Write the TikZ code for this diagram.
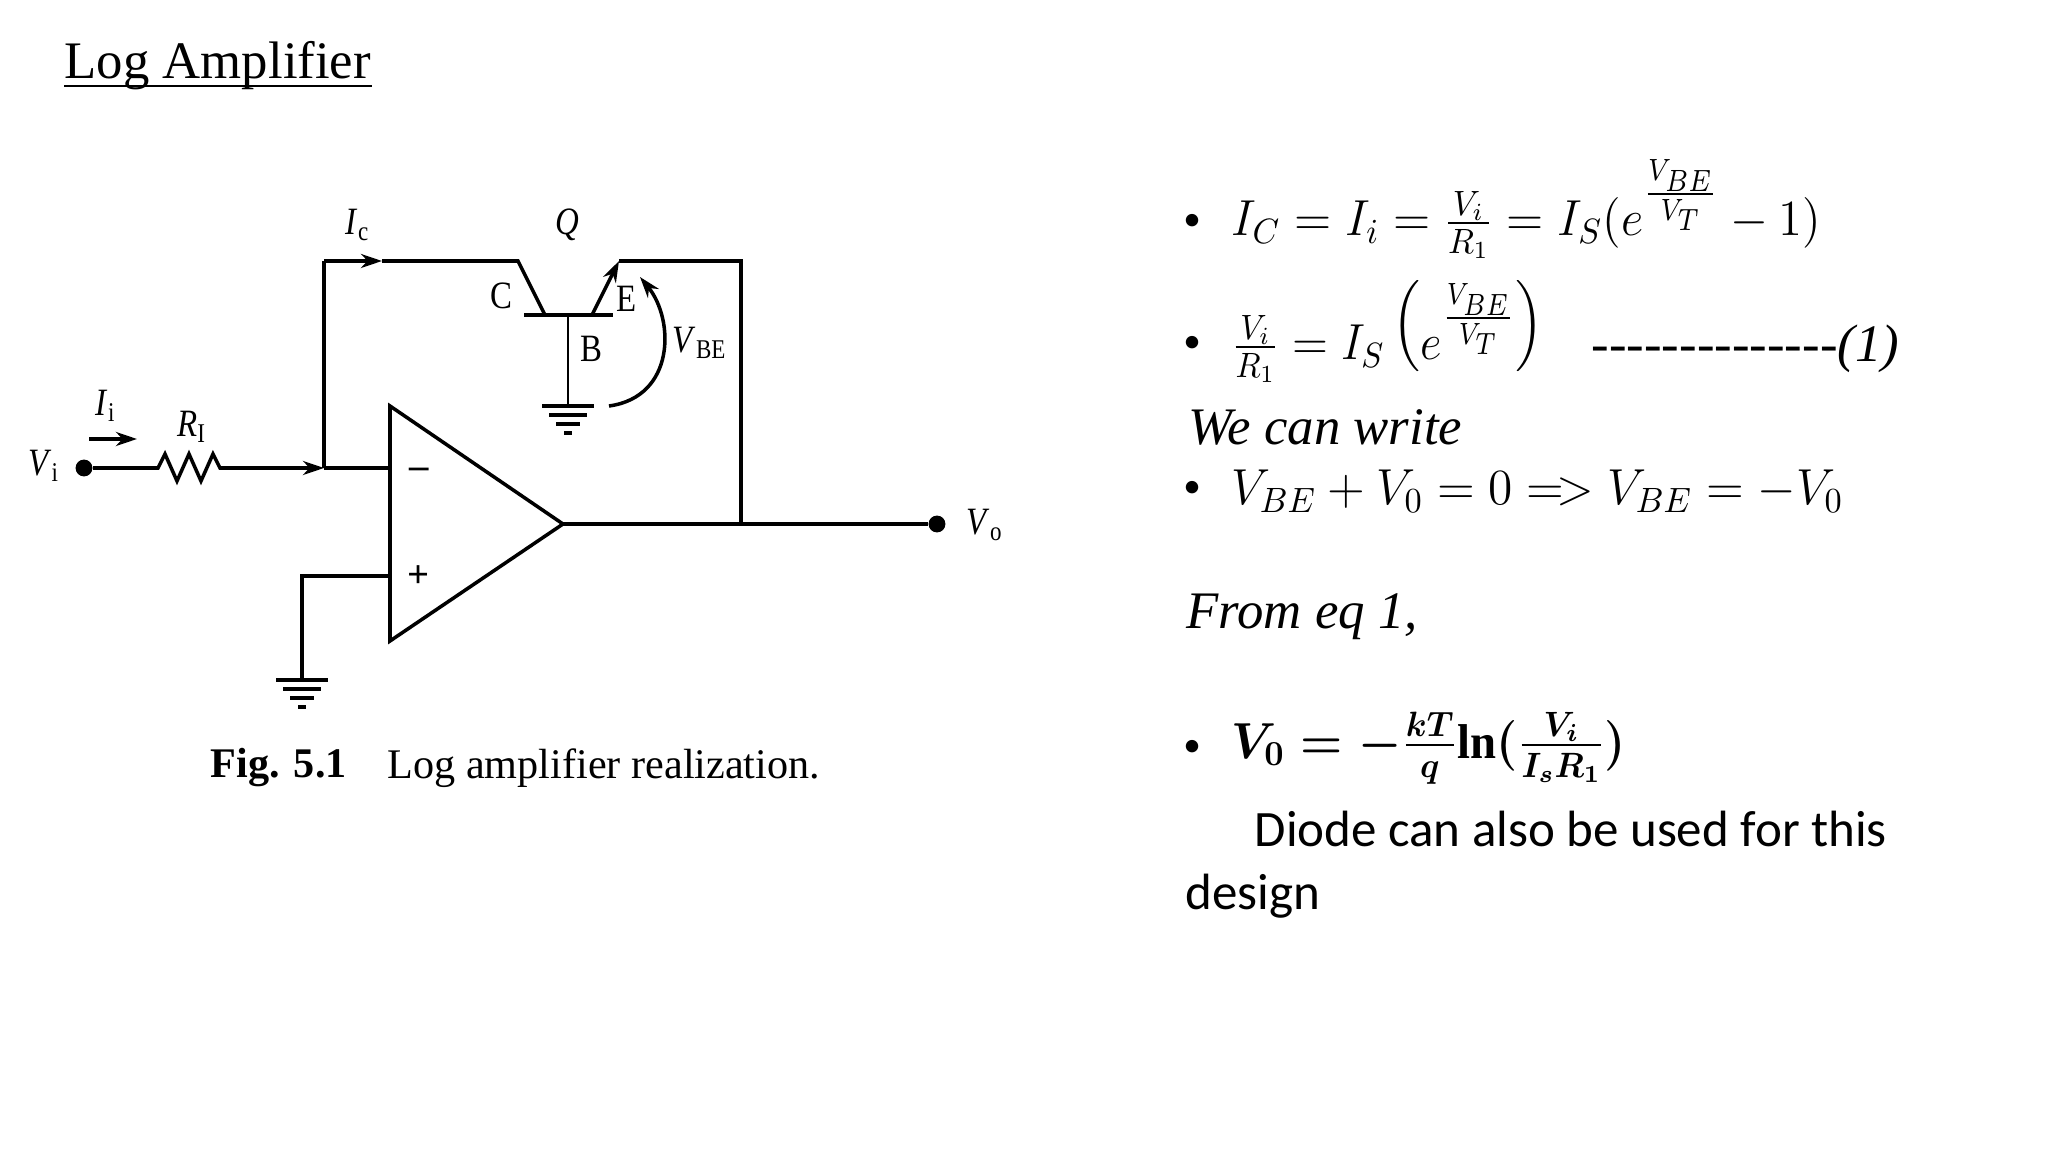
\documentclass[tikz,border=0pt]{standalone}
\usepackage{fontspec}
\usepackage{amsmath}
\usepackage{graphicx}
\setmainfont{Carlito}
\newfontfamily\timesfont{Liberation Serif}
\newfontfamily\cktfont[FakeStretch=0.85]{Liberation Serif}
\usetikzlibrary{arrows.meta}
\tikzset{
    wire/.style={line width=1pt},
    thinwire/.style={line width=0.7pt},
    ckt/.style={font=\cktfont\fontsize{11}{13}\selectfont, inner sep=0pt},
    slide/.style={font=\fontsize{14.5}{17}\selectfont, anchor=west, inner sep=0pt},
    eqn/.style={slide, font=\fontsize{13.9}{17}\selectfont, transform shape},
    emph/.style={slide, font=\timesfont\itshape\fontsize{15}{17}\selectfont},
    tip/.style={-{Stealth[length=6pt,width=4pt]}},
    termdot/.style={circle, fill=black, inner sep=0pt, minimum size=4.8pt}
}
\newcommand{\gndsym}[1]{
    \foreach \w/\d in {26/0,19/9,12/18,4/27}
        \draw[wire] ([shift={(-\w,\d)}]#1) -- ([shift={(\w,\d)}]#1);
}
\newcommand{\vexp}{\scalebox{1.08}[1.25]{$\scriptstyle\frac{V_{BE}}{V_T}$}}
\begin{document}
\begin{tikzpicture}[x=0.01cm,y=-0.01cm]
    \useasboundingbox (0,0) rectangle (2048,1152);
    \node[font=\timesfont\fontsize{15}{18}\selectfont, anchor=west, inner sep=0pt] (title) at (64,66) {Log Amplifier};
    \draw[line width=0.6pt] ([yshift=1.5pt]title.south west) -- ([yshift=1.5pt]title.south east);
    % op amp
    \coordinate (optop) at (390,406);
    \coordinate (opbot) at (390,641);
    \coordinate (opout) at (563,524);
    \draw[wire, line join=miter] (optop) -- (opbot) -- (opout) -- cycle;
    \node[ckt, font=\timesfont\bfseries\fontsize{11}{12}\selectfont] (minus) at (419,473) {–};
    \node[ckt, font=\timesfont\bfseries\fontsize{11}{12}\selectfont] (plus) at (419,577) {+};
    % input side
    \node[termdot] (vidot) at (84,468) {};
    \coordinate (resl) at (152,468);
    \coordinate (resr) at (228,468);
    \coordinate (sum) at (324,468);
    \coordinate (invin) at (390,468);
    \draw[wire] (vidot) -- (resl) -- ++(6,0) -- ++(7,-14) -- ++(12,27) -- ++(12,-27) -- ++(12,27) -- ++(12,-27) -- ++(7,14) -- (resr);
    \draw[wire, tip] (resr) -- (sum);
    \draw[wire] (sum) -- (invin);
    \coordinate (iistart) at (89,439);
    \coordinate (iiend) at (137,439);
    \draw[wire, tip] (iistart) -- (iiend);
    % feedback
    \coordinate (topl) at (324,261);
    \coordinate (icarrow) at (382,261);
    \coordinate (coll) at (518,261);
    \coordinate (colb) at (545,315);
    \coordinate (barl) at (524,315);
    \coordinate (barr) at (613,315);
    \coordinate (emib) at (592,315);
    \coordinate (emi) at (619,261);
    \coordinate (topr) at (741,261);
    \coordinate (outj) at (741,524);
    \draw[wire] (sum) -- (topl);
    \draw[wire, tip] (topl) -- (icarrow);
    \draw[wire] (icarrow) -- (coll) -- (colb);
    \draw[wire, line width=1.2pt] (barl) -- (barr);
    \draw[wire, tip] (emib) -- (emi);
    \draw[wire] (emi) -- (topr) -- (outj);
    \node[termdot] (vodot) at (937,524) {};
    \draw[wire] (opout) -- (vodot);
    % base and grounds
    \coordinate (baseg) at (568,406);
    \coordinate (basec) at (568,315);
    \draw[thinwire] (basec) -- (baseg);
    \gndsym{baseg}
    \coordinate (noninv) at (390,576);
    \coordinate (noninvc) at (302,576);
    \coordinate (gndb) at (302,680);
    \draw[wire] (noninv) -- (noninvc) -- (gndb);
    \gndsym{gndb}
    \coordinate (vbes) at (609,406);
    \coordinate (vbee) at (640,277);
    \draw[wire, tip] (vbes) .. controls (675,397) and (675,320) .. (vbee);
    % circuit labels
    \node[ckt] (vilab) at (44,466) {\textit{V}\textsubscript{i}};
    \node[ckt] (iilab) at (106,406) {\textit{I}\textsubscript{i}};
    \node[ckt] (rlab) at (192,427) {\textit{R}\textsubscript{I}};
    \node[ckt] (iclab) at (358,225) {\textit{I}\textsubscript{c}};
    \node[ckt] (qlab) at (567,225) {\textit{Q}};
    \node[ckt] (clab) at (501,296) {C};
    \node[ckt] (elab) at (627,299) {E};
    \node[ckt] (blab) at (591,349) {B};
    \node[ckt] (vbelab) at (700,343) {\textit{V}\textsubscript{BE}};
    \node[ckt] (volab) at (985,525) {\textit{V}\textsubscript{o}};
    \node[font=\timesfont\bfseries\fontsize{12}{14}\selectfont, anchor=west, inner sep=0pt] (figlab) at (210,768) {Fig. 5.1};
    \node[font=\timesfont\fontsize{12}{14}\selectfont, anchor=west, inner sep=0pt] (figtxt) at (387,768) {Log amplifier realization.};
    % right column
    \foreach \n/\y in {a/222,b/344,c/489,d/748}
        \node[slide, anchor=center, font=\fontsize{10}{12}\selectfont] (bull\n) at (1192,\y) {\textbullet};
    \node[eqn, anchor=base west, xscale=0.963] (eqa) at (1231,236) {$I_C = I_i = \frac{V_i}{R_1} = I_S(e^{\vexp} - 1)$};
    \node[eqn, anchor=base west, xscale=0.93] (eqb) at (1231,360) {$\frac{V_i}{R_1} = I_S\,\raisebox{6pt}{$\Big($}e^{\vexp}\raisebox{6pt}{$\Big)$}$};
    \node[emph] (dashes) at (1591,349) {-{}-{}-{}-{}-{}-{}-{}-{}-{}-{}-{}-{}-{}-(1)};
    \node[emph] (canwrite) at (1188,427) {We can write};
    \node[eqn, xscale=0.977] (eqc) at (1231,491) {$V_{BE} + V_0 = 0 =\!> V_{BE} = -V_0$};
    \node[emph] (fromeq) at (1186,617) {From eq 1,};
    \node[eqn, xscale=0.955] (eqd) at (1231,748) {$\boldsymbol{V_0 = -\frac{kT}{q}}\text{\timesfont\bfseries ln}\boldsymbol{(\frac{V_i}{I_sR_1})}$};
    \node[slide] (diode) at (1254,829) {Diode can also be used for this};
    \node[slide] (design) at (1185,896) {design};
\end{tikzpicture}
\end{document}
